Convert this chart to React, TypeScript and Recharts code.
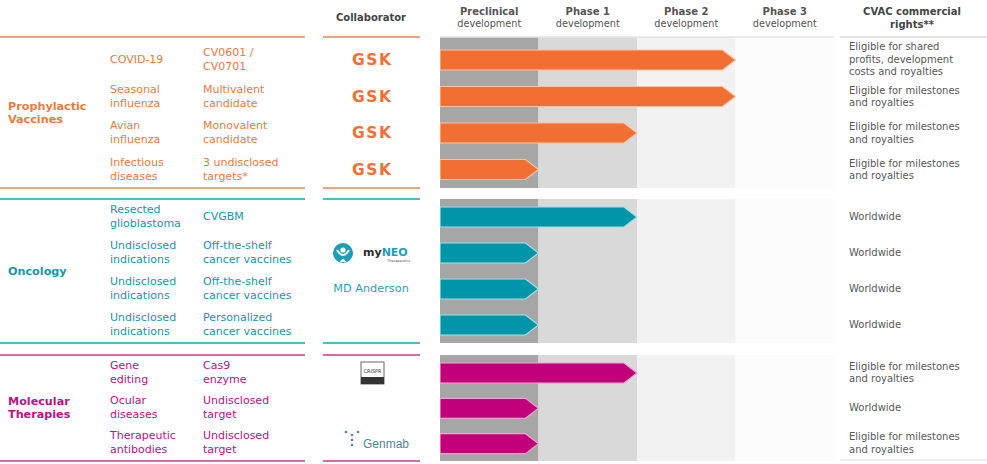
import { BarChart, Bar, XAxis, YAxis, ReferenceArea } from "recharts";

const groups = ["Prophylactic\nVaccines", "Oncology", "Molecular\nTherapies"];
const groupSizes = [4, 4, 3];
const indications = [
  "COVID-19", "Seasonal\ninfluenza", "Avian\ninfluenza", "Infectious\ndiseases",
  "Resected\nglioblastoma", "Undisclosed\nindications", "Undisclosed\nindications", "Undisclosed\nindications",
  "Gene\nediting", "Ocular\ndiseases", "Therapeutic\nantibodies",
];
const candidates = [
  "CV0601 /\nCV0701", "Multivalent\ncandidate", "Monovalent\ncandidate", "3 undisclosed\ntargets*",
  "CVGBM", "Off-the-shelf\ncancer vaccines", "Off-the-shelf\ncancer vaccines", "Personalized\ncancer vaccines",
  "Cas9\nenzyme", "Undisclosed\ntarget", "Undisclosed\ntarget",
];
const collaborators = ["GSK", "GSK", "GSK", "GSK", "", "myNEO", "MD Anderson", "", "CRISPR", "", "Genmab"];
// stage reached, in phases (1 = preclinical, 2 = phase 1, 3 = phase 2)
const stageReached = [3, 3, 2, 1, 2, 1, 1, 1, 2, 1, 1];
const rights = [
  "Eligible for shared\nprofits, development\ncosts and royalties",
  "Eligible for milestones\nand royalties",
  "Eligible for milestones\nand royalties",
  "Eligible for milestones\nand royalties",
  "Worldwide", "Worldwide", "Worldwide", "Worldwide",
  "Eligible for milestones\nand royalties",
  "Worldwide",
  "Eligible for milestones\nand royalties",
];
const stages = ["Preclinical", "Phase 1", "Phase 2", "Phase 3"];
const stageTicks = [0.5, 1.5, 2.5, 3.5];

const FONT = '"DejaVu Sans", Verdana, sans-serif';
const textColors = ["#ee7a3e", "#1697aa", "#c1107f"];
const barColors = ["#f26f32", "#0096a9", "#c2007a"];
const barStrokes = ["#fbc1a4", "#a6dfe7", "#f0a4d0"];
const lineColors = ["#f3a37c", "#55b7c5", "#d66cab"];
const stageFills = ["#a6a6a6", "#d9d9d9", "#f2f2f2", "#fcfcfc"];
const bands = [
  { top: 37, bottom: 188, pad: 5 },
  { top: 199, bottom: 343, pad: 0 },
  { top: 355, bottom: 461, pad: 0 },
];
const CHART_LEFT = 440;
const CHART_WIDTH = 394;

const Arrow = (props: any) => {
  const { x, y, width, height, color, edge } = props;
  if (!width || width <= 0) return null;
  const tip = 13;
  const pts = [
    [x, y],
    [x + width - tip, y],
    [x + width, y + height / 2],
    [x + width - tip, y + height],
    [x, y + height],
  ]
    .map((p) => p.join(","))
    .join(" ");
  return <polygon points={pts} fill={color} stroke={edge} strokeWidth={1.2} />;
};

const StageTick = (props: any) => {
  const { x, payload } = props;
  const i = Math.round(payload.value - 0.5);
  return (
    <g fontFamily={FONT} fill="#555">
      <text x={x} y={15} textAnchor="middle" fontSize={10} fontWeight="bold">
        {stages[i]}
      </text>
      <text x={x} y={27} textAnchor="middle" fontSize={9.7}>
        development
      </text>
    </g>
  );
};

const Block = ({ x, y, text, color, size = 11, lh = 14, bold = false, center = false }: any) => (
  <div
    style={{
      position: "absolute",
      left: center ? x - 80 : x,
      width: center ? 160 : undefined,
      top: y,
      transform: "translateY(-50%)",
      whiteSpace: "pre",
      textAlign: center ? "center" : "left",
      fontFamily: FONT,
      fontSize: size,
      lineHeight: `${lh}px`,
      fontWeight: bold ? "bold" : "normal",
      color,
    }}
  >
    {text}
  </div>
);

const HLine = ({ x1, x2, y, color, w = 1.5 }: any) => (
  <div style={{ position: "absolute", left: x1, width: x2 - x1, top: y - w / 2, height: w, background: color }} />
);

const Logo = ({ name, cy }: { name: string; cy: number }) => {
  if (name === "GSK")
    return (
      <div
        style={{
          position: "absolute", left: 352, top: cy - 10, fontFamily: FONT, fontSize: 15.5,
          fontWeight: "bold", letterSpacing: 1.5, color: "#f37035", lineHeight: "20px",
        }}
      >
        GSK
      </div>
    );
  if (name === "myNEO")
    return (
      <svg style={{ position: "absolute", left: 330, top: cy - 12 }} width={85} height={24}>
        <circle cx={13} cy={12} r={10} fill="#1aa0b4" />
        <circle cx={13} cy={9} r={2.6} fill="#fff" />
        <path d="M7 9 Q13 19 19 9" stroke="#fff" strokeWidth={2} fill="none" />
        <path d="M10 21 Q13 15 16 21" fill="#fff" />
        <text x={33} y={15} fontFamily={FONT} fontSize={11} fontWeight="bold" fill="#2b2b2b">
          my<tspan fill="#1aa0b4">NEO</tspan>
        </text>
        <text x={80} y={21} textAnchor="end" fontFamily={FONT} fontSize={3.5} fill="#555">
          Therapeutics
        </text>
      </svg>
    );
  if (name === "MD Anderson")
    return <Block x={371} y={cy} text="MD Anderson" color="#2fa1b5" size={11.3} center />;
  if (name === "CRISPR")
    return (
      <svg style={{ position: "absolute", left: 360, top: cy - 12 }} width={26} height={25}>
        <rect x={1} y={1} width={23} height={22} fill="#fff" stroke="#666" strokeWidth={1} />
        <rect x={1} y={16} width={23} height={7} fill="#333" />
        <text x={12.5} y={12} textAnchor="middle" fontFamily={FONT} fontSize={5} fill="#333">
          CRISPR
        </text>
      </svg>
    );
  if (name === "Genmab")
    return (
      <svg style={{ position: "absolute", left: 343, top: cy - 14 }} width={80} height={24}>
        <circle cx={3} cy={3} r={1.3} fill="#4f8796" />
        <circle cx={9} cy={6} r={1.3} fill="#4f8796" />
        <circle cx={15} cy={3} r={1.3} fill="#4f8796" />
        <circle cx={9} cy={11} r={1.3} fill="#4f8796" />
        <circle cx={9} cy={16} r={1.3} fill="#4f8796" />
        <text x={20} y={19} fontFamily='"Liberation Sans", Arial, sans-serif' fontSize={12} fill="#4f8796">
          Genmab
        </text>
      </svg>
    );
  return null;
};

const GroupChart = ({ g, start }: { g: number; start: number }) => {
  const band = bands[g];
  const n = groupSizes[g];
  const withHeader = g === 0;
  const data = stageReached.slice(start, start + n).map((v, i) => ({ id: `r${start + i}`, stage: v }));
  const top = withHeader ? 0 : band.top;
  const height = band.bottom - top;
  return (
    <div style={{ position: "absolute", left: CHART_LEFT, top }}>
      <BarChart
        width={CHART_WIDTH}
        height={height}
        data={data}
        layout="vertical"
        margin={{ top: 0, right: 0, bottom: 0, left: 0 }}
        barCategoryGap={0}
      >
        <XAxis
          type="number"
          domain={[0, 4]}
          ticks={stageTicks}
          orientation="top"
          hide={!withHeader}
          height={37}
          axisLine={{ stroke: "#e4e4e4", strokeWidth: 1.5 }}
          tickLine={false}
          tick={<StageTick />}
          interval={0}
        />
        <YAxis type="category" dataKey="id" hide padding={{ top: band.pad, bottom: 0 }} />
        {stageFills.map((f, k) => (
          <ReferenceArea
            key={k}
            x1={k}
            x2={k + 1}
            fill={f}
            fillOpacity={1}
            stroke="none"
            shape={(p: any) => (
              <rect x={p.x} y={p.y - band.pad} width={p.width} height={p.height + band.pad} fill={f} />
            )}
          />
        ))}
        <Bar
          dataKey="stage"
          barSize={20}
          isAnimationActive={false}
          shape={(p: any) => <Arrow {...p} color={barColors[g]} edge={barStrokes[g]} />}
        />
      </BarChart>
    </div>
  );
};

export default function App() {
  let start = 0;
  const starts = groupSizes.map((s) => {
    const v = start;
    start += s;
    return v;
  });
  const rowCenter = (idx: number) => {
    let g = 0;
    while (idx >= starts[g] + groupSizes[g]) g++;
    const b = bands[g];
    const h = (b.bottom - b.top - b.pad) / groupSizes[g];
    return { g, cy: b.top + b.pad + h * (idx - starts[g] + 0.5) };
  };

  return (
    <div
      style={{
        position: "absolute", left: 0, top: 0, width: 987, height: 464,
        background: "#fff", overflow: "hidden",
      }}
    >
      {/* column headers */}
      <Block x={371} y={18} text="Collaborator" color="#444" size={10} bold center />
      <Block x={912} y={18} text={"CVAC commercial\nrights**"} color="#444" size={10} lh={13} bold center />
      <HLine x1={0} x2={305} y={37} color={lineColors[0]} />
      <HLine x1={323} x2={420} y={37} color={lineColors[0]} />
      <HLine x1={840} x2={987} y={37} color="#e2e2e2" />
      <HLine x1={840} x2={987} y={460} color="#eeeeee" />

      {bands.map((b, g) => (
        <div key={g}>
          <HLine x1={0} x2={305} y={b.top} color={lineColors[g]} />
          <HLine x1={0} x2={305} y={b.bottom} color={lineColors[g]} />
          <HLine x1={323} x2={420} y={b.top} color={lineColors[g]} />
          <HLine x1={323} x2={420} y={b.bottom} color={lineColors[g]} />
          <Block x={8} y={(b.top + b.bottom) / 2} text={groups[g]} color={textColors[g]} size={11.2} lh={13} bold />
          <GroupChart g={g} start={starts[g]} />
        </div>
      ))}

      {indications.map((t, i) => {
        const { g, cy } = rowCenter(i);
        return (
          <div key={i}>
            <Block x={110} y={cy} text={t} color={textColors[g]} />
            <Block x={203} y={cy} text={candidates[i]} color={textColors[g]} />
            <Block x={849} y={cy} text={rights[i]} color="#595959" size={10} lh={12.5} />
            <Logo name={collaborators[i]} cy={cy} />
          </div>
        );
      })}
    </div>
  );
}
